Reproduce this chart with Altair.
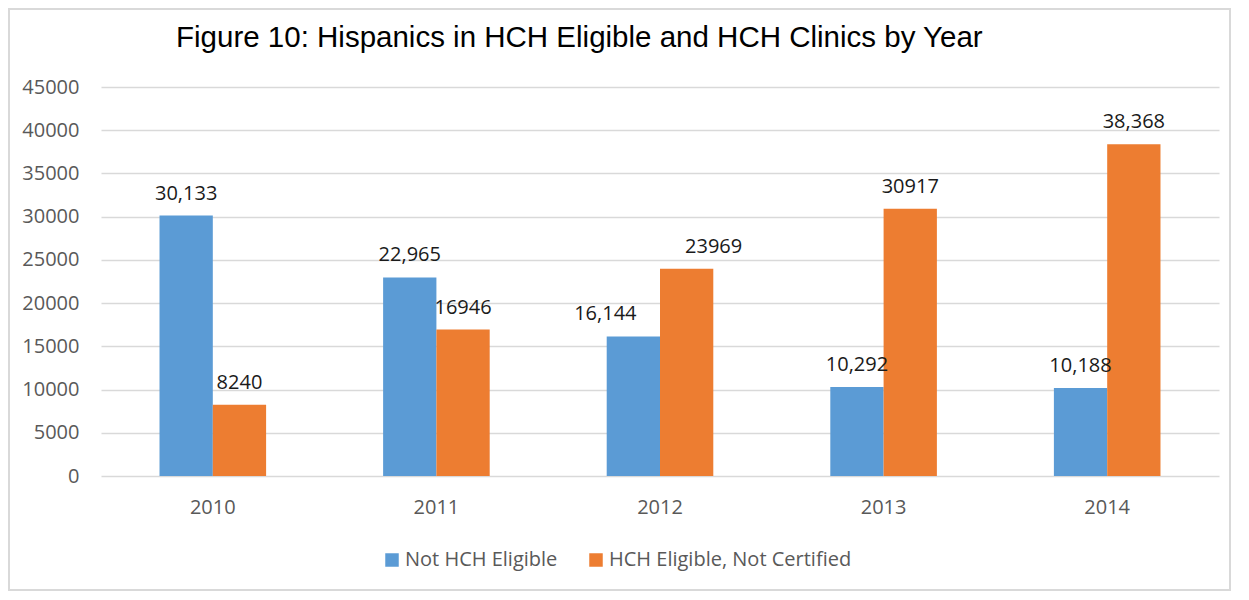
import altair as alt
import pandas as pd

years = ["2010", "2011", "2012", "2013", "2014"]
series_names = ["Not HCH Eligible", "HCH Eligible, Not Certified"]
not_eligible = [30133, 22965, 16144, 10292, 10188]
eligible = [8240, 16946, 23969, 30917, 38368]
not_eligible_labels = ["30,133", "22,965", "16,144", "10,292", "10,188"]
eligible_labels = ["8240", "16946", "23969", "30917", "38,368"]
colors = ["#5B9BD5", "#ED7D31"]
title_text = "Figure 10: Hispanics in HCH Eligible and HCH Clinics by Year"

rows = []
for i, y in enumerate(years):
    rows.append({"year": y, "series": series_names[0], "value": not_eligible[i], "label": not_eligible_labels[i]})
    rows.append({"year": y, "series": series_names[1], "value": eligible[i], "label": eligible_labels[i]})
df = pd.DataFrame(rows)

FONT = "Open Sans"
GREY = "#595959"
W, H = 1118, 389

x_enc = alt.X("year:N", title=None, scale=alt.Scale(paddingInner=0.5233, paddingOuter=0.2617),
              axis=alt.Axis(labelAngle=0, ticks=False, domain=False, grid=False,
                            labelFont=FONT, labelFontSize=20, labelColor=GREY, labelPadding=21))
xoff = alt.XOffset("series:N", sort=series_names,
                   scale=alt.Scale(paddingInner=0, paddingOuter=0))
y_enc = alt.Y("value:Q", title=None,
              scale=alt.Scale(domain=[0, 45000], nice=False),
              axis=alt.Axis(values=list(range(0, 45001, 5000)), format="d", ticks=False, domain=False,
                            gridColor="#D9D9D9", gridWidth=1.5, labelFont=FONT, labelFontSize=20,
                            labelColor=GREY, labelPadding=22))
color_enc = alt.Color("series:N", sort=series_names,
                      scale=alt.Scale(domain=series_names, range=colors),
                      legend=alt.Legend(title=None, orient="none", direction="horizontal",
                                        legendX=281, legendY=463, symbolType="square",
                                        symbolSize=182, symbolStrokeWidth=0, labelFont=FONT,
                                        labelFontSize=20, labelColor=GREY, labelOffset=3,
                                        labelLimit=0, columnPadding=28, padding=0))

base = alt.Chart(df)
bars = base.mark_bar().encode(x=x_enc, xOffset=xoff, y=y_enc, color=color_enc)

def labels(filter_expr, dx):
    return base.transform_filter(filter_expr).mark_text(
        font=FONT, fontSize=20, color="#1a1a1a", baseline="middle", dy=-22, dx=dx
    ).encode(x=x_enc, xOffset=xoff, y=y_enc, text="label:N")

lab_main = labels("datum.year != '2012'", 0)
lab_2012a = labels(f"datum.year == '2012' && datum.series == '{series_names[0]}'", -28)
lab_2012b = labels(f"datum.year == '2012' && datum.series == '{series_names[1]}'", 27)

title = alt.Chart(pd.DataFrame({"t": [title_text]})).mark_text(
    font="Liberation Sans", fontSize=29.5, color="#000000", align="left", baseline="alphabetic"
).encode(x=alt.value(75), y=alt.value(-40), text="t:N")

border = alt.Chart(pd.DataFrame({"t": [0]})).mark_rect(
    fill=None, stroke="#D9D9D9", strokeWidth=2
).encode(x=alt.value(-92), x2=alt.value(1129), y=alt.value(-78), y2=alt.value(503))

chart = alt.layer(border, bars, lab_main, lab_2012a, lab_2012b, title).properties(
    width=W, height=H,
    background="#FFFFFF",
    autosize=alt.AutoSizeParams(type="none"),
    padding={"left": 93, "top": 79, "right": 20, "bottom": 116},
).configure_view(strokeWidth=0, stroke="transparent")

chart.save("out.html", embed_options={"renderer": "svg", "actions": False})
